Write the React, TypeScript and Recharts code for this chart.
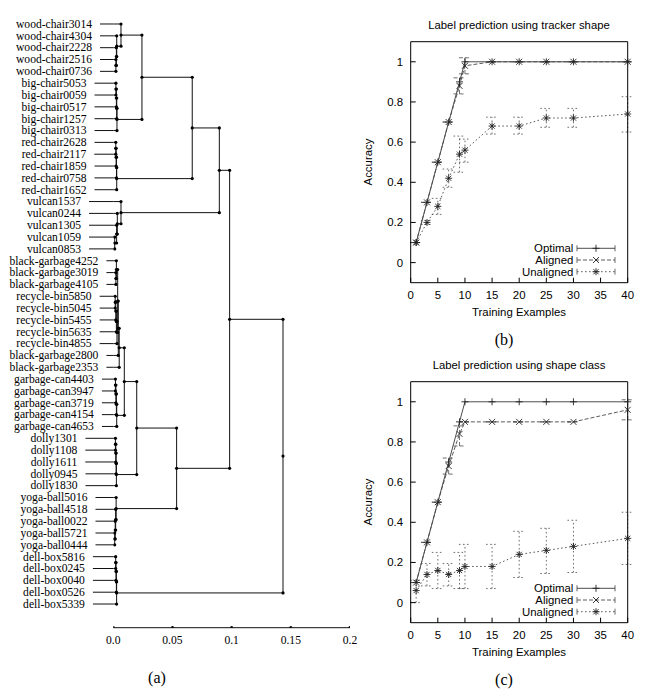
import React from 'react';
import { ComposedChart, Scatter, Line, XAxis, YAxis, ReferenceLine, ErrorBar } from 'recharts';

// ---------- Dendrogram data ----------
const leafNames = [
  'wood-chair3014', 'wood-chair4304', 'wood-chair2228', 'wood-chair2516', 'wood-chair0736',
  'big-chair5053', 'big-chair0059', 'big-chair0517', 'big-chair1257', 'big-chair0313',
  'red-chair2628', 'red-chair2117', 'red-chair1859', 'red-chair0758', 'red-chair1652',
  'vulcan1537', 'vulcan0244', 'vulcan1305', 'vulcan1059', 'vulcan0853',
  'black-garbage4252', 'black-garbage3019', 'black-garbage4105',
  'recycle-bin5850', 'recycle-bin5045', 'recycle-bin5455', 'recycle-bin5635', 'recycle-bin4855',
  'black-garbage2800', 'black-garbage2353',
  'garbage-can4403', 'garbage-can3947', 'garbage-can3719', 'garbage-can4154', 'garbage-can4653',
  'dolly1301', 'dolly1108', 'dolly1611', 'dolly0945', 'dolly1830',
  'yoga-ball5016', 'yoga-ball4518', 'yoga-ball0022', 'yoga-ball5721', 'yoga-ball0444',
  'dell-box5816', 'dell-box0245', 'dell-box0040', 'dell-box0526', 'dell-box5339',
];

// [node id, left child, right child, merge distance]; numbers are leaf indices
const merges: [string, number | string, number | string, number][] = [
  ['w1', 3, 4, 0.0022], ['w2', 2, 'w1', 0.0026], ['w3', 1, 'w2', 0.0029], ['W', 0, 'w3', 0.0065],
  ['b1', 5, 6, 0.0022], ['b2', 'b1', 7, 0.0026], ['b3', 'b2', 8, 0.0029], ['B', 'b3', 9, 0.0031],
  ['WB', 'W', 'B', 0.0242],
  ['r1', 10, 11, 0.0021], ['r2', 'r1', 12, 0.0024], ['r3', 'r2', 13, 0.0027], ['R', 'r3', 14, 0.0029],
  ['WBR', 'WB', 'R', 0.0667],
  ['v1', 18, 19, 0.0012], ['v2', 17, 'v1', 0.0028], ['v3', 16, 'v2', 0.0034], ['V', 15, 'v3', 0.0065],
  ['WBRV', 'WBR', 'V', 0.0896],
  ['g1', 21, 22, 0.0022], ['G1', 20, 'g1', 0.0026],
  ['c1', 23, 24, 0.0016], ['c2', 'c1', 25, 0.0021], ['c3', 'c2', 26, 0.0026], ['C', 'c3', 27, 0.0031],
  ['M', 'G1', 'C', 0.0037], ['K', 'M', 28, 0.0042], ['H', 'K', 29, 0.005],
  ['gc1', 30, 31, 0.0018], ['gc2', 'gc1', 32, 0.0022], ['gc3', 'gc2', 33, 0.0026], ['GC', 'gc3', 34, 0.0029],
  ['G', 'H', 'GC', 0.0093],
  ['d1', 35, 36, 0.0018], ['d2', 'd1', 37, 0.0021], ['d3', 'd2', 38, 0.0024], ['D', 'd3', 39, 0.0026],
  ['F', 'G', 'D', 0.0198],
  ['y1', 43, 44, 0.0012], ['y2', 42, 'y1', 0.0016], ['y3', 41, 'y2', 0.002], ['Y', 40, 'y3', 0.0024],
  ['E', 'F', 'Y', 0.0535],
  ['WBRVE', 'WBRV', 'E', 0.0983],
  ['db1', 45, 46, 0.002], ['db2', 'db1', 47, 0.0023], ['db3', 'db2', 48, 0.0026], ['DB', 'db3', 49, 0.0028],
  ['ROOT', 'WBRVE', 'DB', 0.1434],
];

const distTicks = [0, 0.05, 0.1, 0.15, 0.2];

// ---------- Accuracy data ----------
const trainingX = [1, 3, 5, 7, 9, 10, 15, 20, 25, 30, 40];
const accTicksX = [0, 5, 10, 15, 20, 25, 30, 35, 40];
const accTicksY = [0, 0.2, 0.4, 0.6, 0.8, 1];
const seriesNames = ['Optimal', 'Aligned', 'Unaligned'];

const trackerOptimal = [0.1, 0.3, 0.5, 0.7, 0.9, 1, 1, 1, 1, 1, 1];
const trackerAligned = [0.1, 0.3, 0.5, 0.7, 0.88, 0.98, 1, 1, 1, 1, 1];
const trackerAlignedLow = [0.1, 0.3, 0.5, 0.7, 0.84, 0.94, 1, 1, 1, 1, 1];
const trackerAlignedHigh = [0.1, 0.3, 0.5, 0.7, 0.92, 1.02, 1, 1, 1, 1, 1];
const trackerUnaligned = [0.1, 0.2, 0.28, 0.42, 0.54, 0.56, 0.68, 0.68, 0.72, 0.72, 0.74];
const trackerUnalignedLow = [0.1, 0.19, 0.24, 0.375, 0.45, 0.5, 0.64, 0.64, 0.674, 0.674, 0.65];
const trackerUnalignedHigh = [0.1, 0.21, 0.32, 0.466, 0.63, 0.615, 0.724, 0.724, 0.768, 0.768, 0.826];

const classOptimal = [0.1, 0.3, 0.5, 0.7, 0.9, 1, 1, 1, 1, 1, 1];
const classAligned = [0.1, 0.3, 0.5, 0.68, 0.84, 0.9, 0.9, 0.9, 0.9, 0.9, 0.96];
const classAlignedLow = [0.1, 0.3, 0.5, 0.64, 0.78, 0.9, 0.9, 0.9, 0.9, 0.9, 0.91];
const classAlignedHigh = [0.1, 0.3, 0.5, 0.72, 0.88, 0.9, 0.9, 0.9, 0.9, 0.9, 1.01];
const classUnaligned = [0.06, 0.14, 0.16, 0.14, 0.16, 0.18, 0.18, 0.24, 0.26, 0.28, 0.32];
const classUnalignedLow = [0.0, 0.083, 0.07, 0.083, 0.07, 0.07, 0.07, 0.125, 0.145, 0.15, 0.19];
const classUnalignedHigh = [0.11, 0.195, 0.25, 0.195, 0.25, 0.29, 0.29, 0.355, 0.37, 0.41, 0.45];

// ---------- styles ----------
const SERIF = "'Liberation Serif', 'Times New Roman', serif";
const SANS = "'Liberation Sans', Arial, Helvetica, sans-serif";
const LEAF_FONT = 11.6;
const LABEL_CENTER = 54;
const DENDRO_LEFT = 113.3;
const INK = '#111';

let measureCtx: CanvasRenderingContext2D | null = null;
function textWidth(s: string): number {
  if (!measureCtx) {
    const c = document.createElement('canvas');
    measureCtx = c.getContext('2d');
  }
  if (!measureCtx) return s.length * LEAF_FONT * 0.45;
  measureCtx.font = `${LEAF_FONT}px "Liberation Serif"`;
  return measureCtx.measureText(s).width;
}

// build dendrogram geometry (in data units) from the linkage list
function buildTree() {
  const pos: Record<string, { h: number; y: number }> = {};
  const get = (r: number | string) => (typeof r === 'number' ? { h: 0, y: r } : pos[r]);
  const segs: [number, number, number, number][] = [];
  const dots: { x: number; y: number }[] = [];
  for (const [id, a, b, h] of merges) {
    const A = get(a);
    const B = get(b);
    const y = (A.y + B.y) / 2;
    pos[id] = { h, y };
    segs.push([A.h, A.y, h, A.y]);
    segs.push([B.h, B.y, h, B.y]);
    segs.push([h, A.y, h, B.y]);
    dots.push({ x: h, y: A.y }, { x: h, y: B.y }, { x: h, y });
  }
  return { segs, dots };
}

const tree = buildTree();
const leafTicks = leafNames.map((_, i) => i);
const axisDots = distTicks.map((t) => ({ x: t, y: 51 }));

const LeafTick = (props: any) => {
  const { y, payload } = props;
  const name = leafNames[payload.value];
  const w = textWidth(name);
  const x0 = LABEL_CENTER + w / 2 + 8;
  return (
    <g>
      <text x={LABEL_CENTER} y={y} dy="0.33em" textAnchor="middle" fontFamily={SERIF} fontSize={LEAF_FONT} fill="#000">
        {name}
      </text>
      <line x1={x0} x2={DENDRO_LEFT} y1={y} y2={y} stroke={INK} strokeWidth={1} />
    </g>
  );
};

const dotShape = (p: any) => <circle cx={p.cx} cy={p.cy} r={1.6} fill="#000" />;

function Dendrogram() {
  return (
    <ComposedChart width={360} height={694} margin={{ top: 12.16, right: 10, bottom: 36.3, left: 0 }}>
      <XAxis
        type="number"
        dataKey="x"
        domain={[0, 0.2]}
        ticks={distTicks}
        interval={0}
        allowDataOverflow
        tickFormatter={(v: number) => (v === 0 ? '0.0' : String(v))}
        axisLine={{ stroke: INK }}
        tickLine={false}
        tickSize={0}
        tickMargin={8}
        height={30}
        tick={{ fill: '#000', fontSize: LEAF_FONT, fontFamily: SERIF }}
      />
      <YAxis
        type="number"
        dataKey="y"
        domain={[-1, 51]}
        reversed
        allowDataOverflow
        ticks={leafTicks}
        interval={0}
        tick={LeafTick}
        axisLine={false}
        tickLine={false}
        width={DENDRO_LEFT}
      />
      {tree.segs.map((s, i) => (
        <ReferenceLine
          key={i}
          segment={[{ x: s[0], y: s[1] }, { x: s[2], y: s[3] }]}
          stroke={INK}
          strokeWidth={1}
          ifOverflow="visible"
        />
      ))}
      <Scatter data={tree.dots} shape={dotShape} isAnimationActive={false} />
      <Scatter data={axisDots} shape={dotShape} isAnimationActive={false} />
    </ComposedChart>
  );
}

// ---------- markers ----------
const STROKE = '#3a3a3a';
const DASH_STROKE = '#4a4a4a';
function plusPath(cx: number, cy: number, s: number) {
  return `M${cx - s},${cy}h${2 * s}M${cx},${cy - s}v${2 * s}`;
}
function crossPath(cx: number, cy: number, s: number) {
  return `M${cx - s},${cy - s}l${2 * s},${2 * s}M${cx - s},${cy + s}l${2 * s},${-2 * s}`;
}
const markerPath = (kind: number, cx: number, cy: number) => {
  if (kind === 0) return plusPath(cx, cy, 3.5);
  if (kind === 1) return crossPath(cx, cy, 3);
  return plusPath(cx, cy, 3.5) + crossPath(cx, cy, 2.6);
};
const makeDot = (kind: number) => (p: any) => {
  if (p.cx == null || p.cy == null) return <g key={`n${p.index}`} />;
  return <path key={`m${kind}-${p.index}`} d={markerPath(kind, p.cx, p.cy)} stroke="#222" strokeWidth={0.9} fill="none" />;
};

const DASHES = ['none', '4 2', '1.6 2.4'];

function buildRows(opt: number[], ali: number[], aliLo: number[], aliHi: number[], una: number[], unaLo: number[], unaHi: number[]) {
  return trainingX.map((x, i) => ({
    x,
    opt: opt[i],
    ali: ali[i],
    una: una[i],
    aliErr: [ali[i] - aliLo[i], aliHi[i] - ali[i]],
    unaErr: [una[i] - unaLo[i], unaHi[i] - una[i]],
  }));
}

const trackerRows = buildRows(trackerOptimal, trackerAligned, trackerAlignedLow, trackerAlignedHigh, trackerUnaligned, trackerUnalignedLow, trackerUnalignedHigh);
const classRows = buildRows(classOptimal, classAligned, classAlignedLow, classAlignedHigh, classUnaligned, classUnalignedLow, classUnalignedHigh);

const tickStyle = { fill: '#000', fontSize: 11.4, fontFamily: SANS };

function AccuracyChart({ rows }: { rows: any[] }) {
  return (
    <ComposedChart width={288} height={340} data={rows} margin={{ top: 31.7, right: 10.3, bottom: 27.3, left: 10.7 }}>
      <XAxis type="number" dataKey="x" domain={[0, 40]} ticks={accTicksX} interval={0} stroke="#000"
        tickSize={-5} tickMargin={13} height={30} tick={tickStyle} />
      <XAxis xAxisId="top" orientation="top" type="number" dataKey="x" domain={[0, 40]} ticks={accTicksX} interval={0}
        stroke="#000" tickSize={-5} tick={false} height={10} />
      <YAxis type="number" domain={[-0.1, 1.1]} ticks={accTicksY} interval={0} stroke="#000"
        tickSize={-5} tickMargin={12.7} width={40} tick={tickStyle} />
      <YAxis yAxisId="right" orientation="right" type="number" domain={[-0.1, 1.1]} ticks={accTicksY} interval={0}
        stroke="#000" tickSize={-5} tick={false} width={10} />
      <Line dataKey="opt" stroke={STROKE} strokeWidth={0.9} dot={makeDot(0)} activeDot={false} isAnimationActive={false} />
      <Line dataKey="ali" stroke={DASH_STROKE} strokeWidth={0.9} strokeDasharray={DASHES[1]} dot={makeDot(1)} activeDot={false} isAnimationActive={false}>
        <ErrorBar dataKey="aliErr" direction="y" width={6} stroke={DASH_STROKE} strokeWidth={0.8} strokeDasharray={DASHES[1]} />
      </Line>
      <Line dataKey="una" stroke={DASH_STROKE} strokeWidth={0.9} strokeDasharray={DASHES[2]} dot={makeDot(2)} activeDot={false} isAnimationActive={false}>
        <ErrorBar dataKey="unaErr" direction="y" width={6} stroke={DASH_STROKE} strokeWidth={0.8} strokeDasharray={DASHES[2]} />
      </Line>
    </ComposedChart>
  );
}

function LegendBox({ top }: { top: number }) {
  return (
    <svg width={160} height={40} style={{ position: 'absolute', left: 460, top: top + 238 }}>
      {seriesNames.map((n, i) => {
        const y = 10.3 + i * 11.7;
        const col = i === 0 ? STROKE : DASH_STROKE;
        return (
          <g key={n}>
            <text x={113.3} y={y} dy="0.36em" textAnchor="end" fontFamily={SANS} fontSize={11.4} fill="#000">{n}</text>
            <line x1={117} x2={155} y1={y} y2={y} stroke={col} strokeWidth={0.9} strokeDasharray={DASHES[i] === 'none' ? undefined : DASHES[i]} />
            <line x1={117} x2={117} y1={y - 3} y2={y + 3} stroke={col} strokeWidth={0.8} />
            <line x1={155} x2={155} y1={y - 3} y2={y + 3} stroke={col} strokeWidth={0.8} />
            <path d={markerPath(i, 136, y)} stroke="#222" strokeWidth={0.9} fill="none" />
          </g>
        );
      })}
    </svg>
  );
}

function PanelText({ top, title, tag }: { top: number; title: string; tag: string }) {
  return (
    <>
      <text x={519} y={top + 29} textAnchor="middle" fontFamily={SANS} fontSize={11.3} fill="#000">{title}</text>
      <text x={519} y={top + 316} textAnchor="middle" fontFamily={SANS} fontSize={11.4} fill="#000">Training Examples</text>
      <text x={0} y={0} transform={`translate(372, ${top + 162}) rotate(-90)`} textAnchor="middle" fontFamily={SANS} fontSize={11.4} fill="#000">Accuracy</text>
      <text x={504} y={top + 345} textAnchor="middle" fontFamily={SERIF} fontSize={16} fill="#000">{tag}</text>
    </>
  );
}

export default function App() {
  return (
    <div style={{ position: 'absolute', left: 0, top: 0, width: 648, height: 694, background: '#fff', overflow: 'hidden' }}>
      <div style={{ position: 'absolute', left: 0, top: 0 }}>
        <Dendrogram />
      </div>
      <div style={{ position: 'absolute', left: 360, top: 0 }}>
        <AccuracyChart rows={trackerRows} />
      </div>
      <div style={{ position: 'absolute', left: 360, top: 340 }}>
        <AccuracyChart rows={classRows} />
      </div>
      <LegendBox top={0} />
      <LegendBox top={340} />
      <svg width={648} height={694} style={{ position: 'absolute', left: 0, top: 0, pointerEvents: 'none' }}>
        <text x={157} y={683} textAnchor="middle" fontFamily={SERIF} fontSize={16} fill="#000">(a)</text>
        <PanelText top={0} title="Label prediction using tracker shape" tag="(b)" />
        <PanelText top={340} title="Label prediction using shape class" tag="(c)" />
      </svg>
    </div>
  );
}
